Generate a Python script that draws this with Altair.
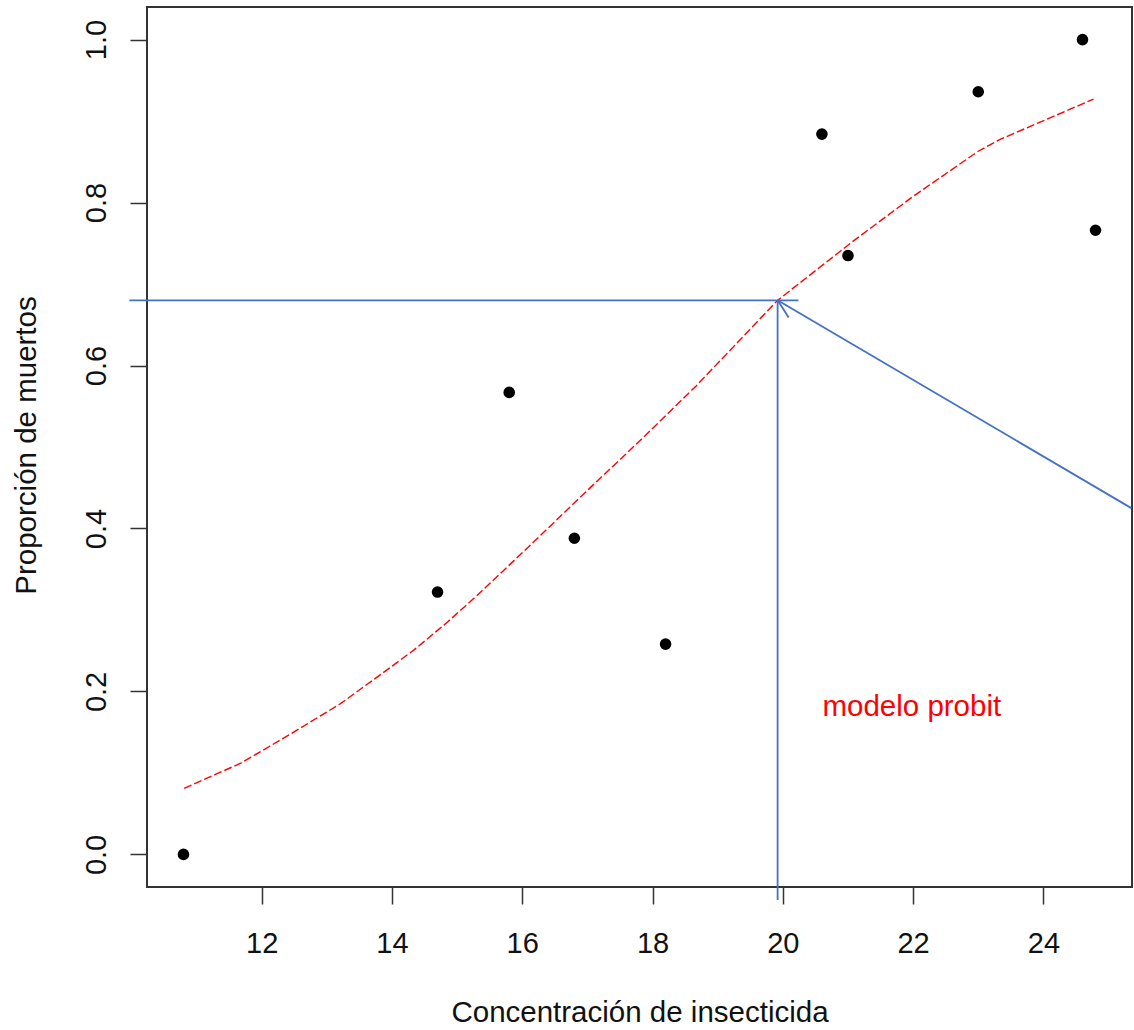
import altair as alt
import pandas as pd

# Observed data (concentration vs proportion dead)
conc = [10.8, 14.7, 15.8, 16.8, 18.2, 20.6, 21.0, 23.0, 24.6, 24.8]
prop = [0.0, 0.322, 0.567, 0.388, 0.258, 0.884, 0.735, 0.936, 1.0, 0.766]

# Fitted probit curve
curve_x = [10.81, 11.68, 12.45, 13.21, 13.83, 14.34, 14.85, 15.31, 16.17,
           16.99, 17.81, 18.67, 19.92, 21.07, 21.99, 23.0, 23.32, 24.77]
curve_y = [0.081, 0.112, 0.148, 0.185, 0.221, 0.251, 0.285, 0.318, 0.383,
           0.446, 0.508, 0.575, 0.680, 0.752, 0.807, 0.863, 0.877, 0.927]

# Blue annotation segments (x, y, x2, y2)
seg_x = [9.97, 19.92, 25.35, 19.92]
seg_y = [0.680, 0.680, 0.425, 0.680]
seg_x2 = [20.24, 19.92, 19.92, 20.09]
seg_y2 = [0.680, -0.056, 0.680, 0.659]

label_text = ["modelo probit"]
label_x = [21.98]
label_y = [0.170]

x_ticks = [12, 14, 16, 18, 20, 22, 24]
y_ticks = [0.0, 0.2, 0.4, 0.6, 0.8, 1.0]

FONT = "Liberation Sans"

pts = pd.DataFrame({"x": conc, "y": prop})
crv = pd.DataFrame({"x": curve_x, "y": curve_y})
seg = pd.DataFrame({"x": seg_x, "y": seg_y, "x2": seg_x2, "y2": seg_y2})
lab = pd.DataFrame({"x": label_x, "y": label_y, "t": label_text})

xscale = alt.Scale(domain=[10.24, 25.36], nice=False, zero=False)
yscale = alt.Scale(domain=[-0.04, 1.04], nice=False, zero=False)

xaxis = alt.Axis(
    title="Concentración de insecticida", values=x_ticks, format="d",
    grid=False, domain=False, tickSize=17, tickColor="#333333", tickWidth=1.5,
    labelFontSize=29, labelFont=FONT, labelColor="#111111", labelPadding=48,
    labelBaseline="alphabetic", labelFlush=False, labelOverlap=False,
    titleFontSize=29.5, titleFont=FONT, titleFontWeight="normal", titleColor="#111111",
    titleY=134, titleBaseline="alphabetic", titleAlign="center",
)
yaxis = alt.Axis(
    title="Proporción de muertos", values=y_ticks, format=".1f",
    grid=False, domain=False, tickSize=17, tickColor="#333333", tickWidth=1.5,
    labelFontSize=29, labelFont=FONT, labelColor="#111111", labelPadding=25,
    labelAngle=270, labelAlign="center", labelBaseline="alphabetic",
    labelFlush=False, labelOverlap=False,
    titleFontSize=29.5, titleFont=FONT, titleFontWeight="normal", titleColor="#111111",
    titleAngle=270, titleX=-112, titleY=438, titleAlign="center", titleBaseline="alphabetic",
)

X = alt.X("x:Q", scale=xscale, axis=xaxis)
Y = alt.Y("y:Q", scale=yscale, axis=yaxis)

points = alt.Chart(pts).mark_point(filled=True, shape="circle", size=135, color="black", opacity=1).encode(x=X, y=Y)

curve = alt.Chart(crv).mark_line(color="red", strokeWidth=1.4, strokeDash=[8, 3]).encode(x=X, y=Y)

segs = alt.Chart(seg).mark_rule(color="#4472C4", strokeWidth=1.8).encode(
    x=X, y=Y, x2="x2:Q", y2="y2:Q"
)

text = alt.Chart(lab).mark_text(
    color="red", fontSize=29.5, font=FONT, align="center", baseline="alphabetic"
).encode(x=X, y=Y, text="t:N")

chart = alt.layer(points, curve, segs, text).properties(
    width=985, height=880,
    autosize=alt.AutoSizeParams(type="none"),
    padding={"left": 147, "top": 7, "right": 2, "bottom": 143},
    background="white",
).configure_view(stroke="#333333", strokeWidth=2)

chart.save("out.html", embed_options={"renderer": "svg", "actions": False})
